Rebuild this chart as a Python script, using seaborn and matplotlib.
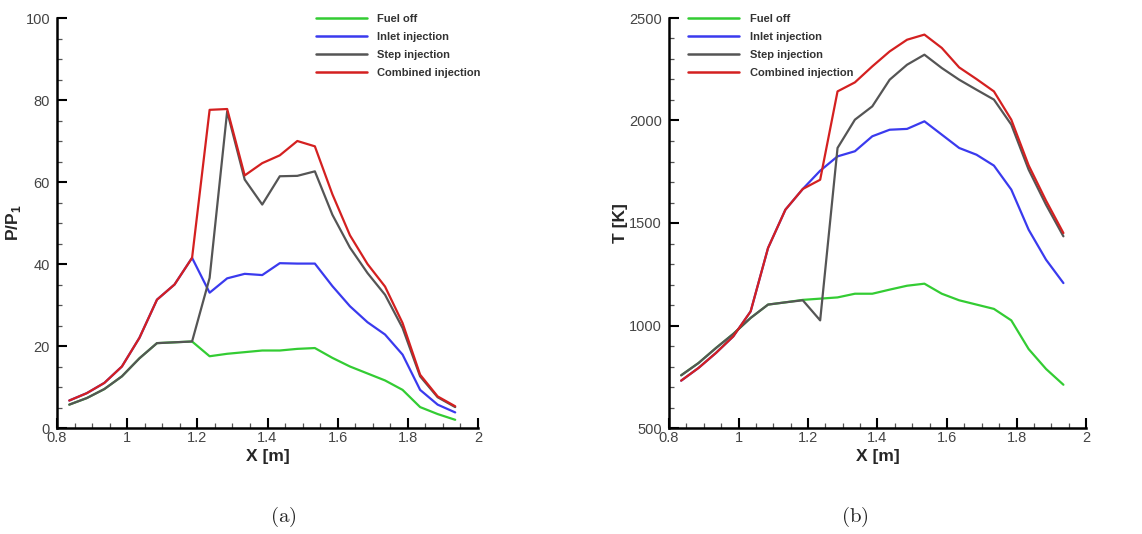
import numpy as np
import pandas as pd
import matplotlib
matplotlib.use("Agg")
import matplotlib.pyplot as plt
from matplotlib.ticker import MultipleLocator
import seaborn as sns

# Axial stations [m]
x_pos = [0.835, 0.885, 0.935, 0.985, 1.035, 1.085, 1.135, 1.185, 1.235, 1.285, 1.335, 1.385,
         1.435, 1.485, 1.535, 1.585, 1.635, 1.685, 1.735, 1.785, 1.835, 1.885, 1.935]

# (a) pressure ratio P/P1
p_fuel_off = [5.7, 7.3, 9.5, 12.6, 17.0, 20.7, 20.9, 21.1, 17.5, 18.1, 18.5, 18.9,
              18.9, 19.3, 19.5, 17.1, 15.0, 13.3, 11.6, 9.3, 5.1, 3.4, 2.0]
p_inlet = [6.7, 8.5, 11.0, 15.0, 22.0, 31.3, 35.0, 41.5, 33.0, 36.5, 37.6, 37.3,
           40.2, 40.1, 40.1, 34.6, 29.7, 25.8, 22.8, 17.9, 9.3, 5.7, 3.8]
p_step = [5.7, 7.3, 9.5, 12.6, 17.0, 20.7, 20.9, 21.1, 36.6, 77.2, 60.6, 54.5,
          61.4, 61.5, 62.6, 52.0, 44.0, 37.8, 32.5, 24.4, 12.6, 7.5, 5.1]
p_combined = [6.7, 8.5, 11.0, 15.0, 22.0, 31.3, 35.0, 41.5, 77.6, 77.8, 61.6, 64.6,
              66.5, 70.0, 68.7, 57.0, 47.0, 40.0, 34.5, 25.6, 13.0, 7.7, 5.3]

# (b) temperature T [K]
t_fuel_off = [757, 817, 890, 959, 1037, 1102, 1113, 1125, 1131, 1137, 1155, 1155,
              1175, 1194, 1204, 1155, 1123, 1102, 1081, 1025, 885, 788, 711]
t_inlet = [731, 793, 866, 947, 1069, 1378, 1565, 1666, 1755, 1825, 1850, 1923,
           1955, 1959, 1996, 1931, 1866, 1833, 1780, 1663, 1467, 1321, 1207]
t_step = [757, 817, 890, 959, 1037, 1102, 1113, 1123, 1025, 1866, 2004, 2069,
          2199, 2272, 2321, 2256, 2199, 2150, 2102, 1980, 1760, 1589, 1435]
t_combined = [731, 793, 866, 947, 1069, 1378, 1565, 1666, 1711, 2142, 2186, 2264,
              2337, 2394, 2419, 2354, 2259, 2202, 2142, 2004, 1781, 1609, 1451]

cases = ["Fuel off", "Inlet injection", "Step injection", "Combined injection"]
colors = ["#33cc33", "#3a3aee", "#555555", "#d42020"]

def long_frame(series):
    rows = []
    for name, vals in zip(cases, series):
        rows.append(pd.DataFrame({"x": x_pos, "y": vals, "case": name}))
    return pd.concat(rows, ignore_index=True)

df_p = long_frame([p_fuel_off, p_inlet, p_step, p_combined])
df_t = long_frame([t_fuel_off, t_inlet, t_step, t_combined])

sns.set_theme(style="ticks")
plt.rcParams["font.family"] = ["Liberation Sans", "DejaVu Sans"]
plt.rcParams["mathtext.fontset"] = "custom"
plt.rcParams["mathtext.rm"] = "Liberation Sans"
plt.rcParams["mathtext.bf"] = "Liberation Sans:bold"

fig = plt.figure(figsize=(11.42, 5.34), dpi=100)
ax1 = fig.add_axes([57 / 1142, 106 / 534, 421 / 1142, 410 / 534])
ax2 = fig.add_axes([669 / 1142, 106 / 534, 417 / 1142, 410 / 534])

palette = dict(zip(cases, colors))

for ax, df in [(ax1, df_p), (ax2, df_t)]:
    sns.lineplot(data=df, x="x", y="y", hue="case", hue_order=cases, palette=palette,
                 linewidth=1.6, ax=ax, sort=False, estimator=None)
    ax.set_xlim(0.8, 2.0)
    ax.xaxis.set_minor_locator(MultipleLocator(0.05))
    ax.set_xticks([0.8, 1.0, 1.2, 1.4, 1.6, 1.8, 2.0])
    ax.set_xticklabels(["0.8", "1", "1.2", "1.4", "1.6", "1.8", "2"])
    for s in ["top", "right"]:
        ax.spines[s].set_visible(False)
    for s in ["left", "bottom"]:
        ax.spines[s].set_linewidth(1.8)
        ax.spines[s].set_color("black")
    ax.tick_params(which="major", direction="in", length=7, width=1.5, color="black",
                   labelsize=10.5, labelcolor="#444444")
    ax.tick_params(which="minor", direction="in", length=3.5, width=0.9, color="#555555")
    ax.tick_params(axis="x", which="major", pad=2)
    ax.tick_params(axis="y", which="major", pad=5)
    ax.set_xlabel("X [m]", fontsize=12.5, fontweight="bold", labelpad=3)
    ax.grid(False)

ax1.set_ylim(0, 100)
ax1.yaxis.set_major_locator(MultipleLocator(20))
ax1.yaxis.set_minor_locator(MultipleLocator(5))
ax1.set_ylabel(r"P/P$_{\mathbf{1}}$", fontsize=12.5, fontweight="bold", labelpad=2)

ax2.set_ylim(500, 2500)
ax2.yaxis.set_major_locator(MultipleLocator(500))
ax2.yaxis.set_minor_locator(MultipleLocator(100))
ax2.set_ylabel("T [K]", fontsize=12.5, fontweight="bold", labelpad=1)

for ax, anchor in [(ax1, (0.604, 1.02)), (ax2, (0.035, 1.02))]:
    leg = ax.legend(loc="upper left", bbox_to_anchor=anchor, frameon=False,
                    handlelength=4.6, handletextpad=0.95, labelspacing=0.72,
                    prop={"weight": "bold", "size": 8}, borderaxespad=0)
    for line in leg.get_lines():
        line.set_linewidth(1.8)
    for txt in leg.get_texts():
        txt.set_color("#333333")

plt.rcParams["mathtext.fontset"] = "cm"
fig.text(283 / 1142, 1 - 517 / 534, r"$\mathrm{(a)}$", ha="center", va="center", fontsize=15)
fig.text(855 / 1142, 1 - 517 / 534, r"$\mathrm{(b)}$", ha="center", va="center", fontsize=15)

fig.savefig("out.png", dpi=100, facecolor="white")
